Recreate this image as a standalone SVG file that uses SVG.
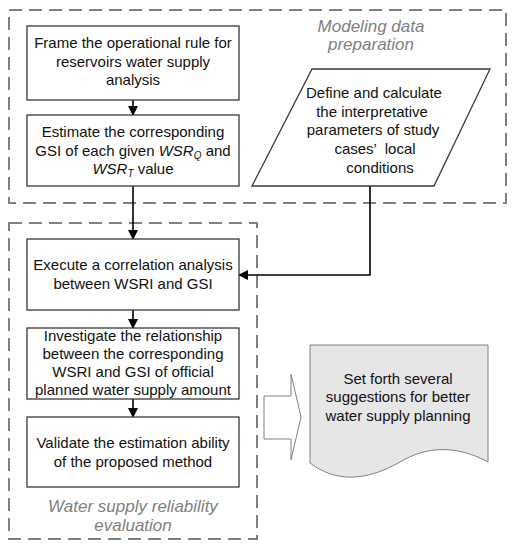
<svg xmlns="http://www.w3.org/2000/svg" width="521" height="550" viewBox="0 0 521 550">
<style>
.grp{fill:none;stroke:#808080;stroke-width:2;stroke-dasharray:13,7}
.box{fill:#fff;stroke:#3a3a3a;stroke-width:1.3}
.t{font-family:"Liberation Sans",Arial,sans-serif;font-size:15px;fill:#111;text-anchor:middle}
.lab{font-family:"Liberation Sans",Arial,sans-serif;font-size:17px;font-style:italic;fill:#808080;text-anchor:middle}
.i{font-style:italic}
.sub{font-size:10px;font-style:italic}
.con{fill:none;stroke:#000;stroke-width:1.6}
</style>
<defs>
<marker id="ah" markerWidth="10" markerHeight="10" refX="9" refY="5" orient="auto" markerUnits="userSpaceOnUse">
<path d="M0,0 L10,5 L0,10 Z" fill="#000"/>
</marker>
</defs>
<rect width="521" height="550" fill="#fff"/>
<g id="group-modeling">
<rect class="grp" x="9" y="10" width="497" height="193"/>
<text class="lab" x="371" y="32">Modeling data</text>
<text class="lab" x="371" y="50">preparation</text>
</g>
<g id="group-evaluation">
<rect class="grp" x="9" y="223" width="248" height="316"/>
<text class="lab" x="133" y="512">Water supply reliability</text>
<text class="lab" x="133" y="531">evaluation</text>
</g>
<g id="connectors">
<path class="con" d="M133,100 V115" marker-end="url(#ah)"/>
<path class="con" d="M133,186 V239" marker-end="url(#ah)"/>
<path class="con" d="M370,186 V275 H239" marker-end="url(#ah)"/>
<path class="con" d="M133,310 V328" marker-end="url(#ah)"/>
<path class="con" d="M133,399 V417" marker-end="url(#ah)"/>
</g>
<g id="node-frame">
<rect class="box" x="27" y="26" width="212" height="74"/>
<text class="t" x="133" y="48">Frame the operational rule for</text>
<text class="t" x="133" y="67">reservoirs water supply</text>
<text class="t" x="133" y="85">analysis</text>
</g>
<g id="node-estimate">
<rect class="box" x="27" y="115" width="212" height="71"/>
<text class="t" x="133" y="137">Estimate the corresponding</text>
<text class="t" x="133" y="156">GSI of each given <tspan class="i">WSR</tspan><tspan class="sub" dy="3">Q</tspan><tspan dy="-3"> and</tspan></text>
<text class="t" x="133" y="174"><tspan class="i">WSR</tspan><tspan class="sub" dy="3">T</tspan><tspan dy="-3"> value</tspan></text>
</g>
<g id="node-define">
<polygon class="box" points="312,69 490,69 434,186 252,186"/>
<text class="t" x="374" y="98">Define and calculate</text>
<text class="t" x="372" y="117">the interpretative</text>
<text class="t" x="373" y="135">parameters of study</text>
<text class="t" x="375" y="154" xml:space="preserve">cases’  local</text>
<text class="t" x="380" y="173">conditions</text>
</g>
<g id="node-execute">
<rect class="box" x="27" y="239" width="212" height="71"/>
<text class="t" x="133" y="270">Execute a correlation analysis</text>
<text class="t" x="133" y="289">between WSRI and GSI</text>
</g>
<g id="node-investigate">
<rect class="box" x="27" y="328" width="212" height="71"/>
<text class="t" x="133" y="341">Investigate the relationship</text>
<text class="t" x="133" y="359">between the corresponding</text>
<text class="t" x="133" y="377">WSRI and GSI of official</text>
<text class="t" x="133" y="395">planned water supply amount</text>
</g>
<g id="node-validate">
<rect class="box" x="27" y="417" width="212" height="70"/>
<text class="t" x="133" y="448">Validate the estimation ability</text>
<text class="t" x="133" y="467">of the proposed method</text>
</g>
<g id="node-arrow">
<polygon points="264,396 291,396 291,374 301,417 291,460 291,439 264,439" fill="#fff" stroke="#808080" stroke-width="1"/>
</g>
<g id="node-suggest">
<path d="M310,345 H488 V462 C455,444 425,447 400,462 C365,482 335,482 310,463 Z" fill="#e6e6e6" stroke="#808080" stroke-width="1"/>
<text class="t" x="398" y="384">Set forth several</text>
<text class="t" x="398" y="402">suggestions for better</text>
<text class="t" x="398" y="421">water supply planning</text>
</g>
</svg>
